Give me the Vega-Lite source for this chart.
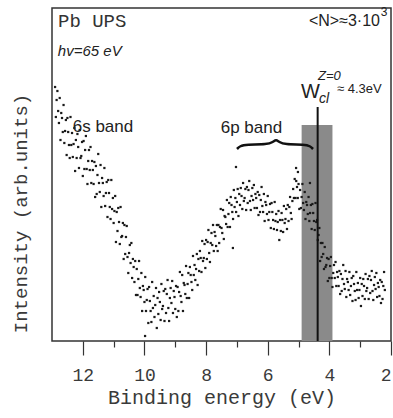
{
  "$schema": "https://vega.github.io/schema/vega-lite/v6.json",
  "width": 339,
  "height": 333,
  "autosize": {"type": "none"},
  "padding": {"left": 52, "top": 8, "right": 2, "bottom": 77},
  "background": "white",
  "config": {
    "view": {"stroke": "#333333", "strokeWidth": 1.5}
  },
  "encoding": {
    "x": {
      "field": "e", "type": "quantitative",
      "scale": {"domain": [2, 13], "reverse": true, "nice": false, "zero": false},
      "axis": {
        "title": "Binding energy (eV)",
        "values": [2, 2.5, 3, 3.5, 4, 4.5, 5, 5.5, 6, 6.5, 7, 7.5, 8, 8.5, 9, 9.5, 10, 10.5, 11, 11.5, 12, 12.5],
        "format": "d",
        "labelExpr": "datum.value % 2 === 0 ? format(datum.value, 'd') : ''",
        "labelOverlap": false,
        "tickSize": {"condition": {"test": "datum.value % 2 === 0", "value": 14}, "value": 6},
        "tickColor": "#333333",
        "tickWidth": 1.2,
        "domain": false,
        "grid": false,
        "labelFont": "Liberation Mono",
        "labelFontSize": 18,
        "labelColor": "#3a3a3a",
        "labelPadding": 11,
        "titleFont": "Liberation Mono",
        "titleFontSize": 20,
        "titleFontWeight": "normal",
        "titleColor": "#3a3a3a",
        "titlePadding": 3
      }
    },
    "y": {
      "field": "i", "type": "quantitative",
      "scale": {"domain": [0, 333], "nice": false, "zero": true},
      "axis": {
        "title": "Intensity (arb.units)",
        "labels": false, "ticks": false, "domain": false, "grid": false,
        "titleFont": "Liberation Mono",
        "titleFontSize": 19,
        "titleFontWeight": "normal",
        "titleColor": "#3a3a3a",
        "titleAngle": -90,
        "titleAlign": "center",
        "titleBaseline": "middle",
        "titleX": -32,
        "titleY": 205
      }
    }
  },
  "layer": [
    {
      "data": {"values": [{"e": 4.9, "e2": 3.9, "i": 216}]},
      "mark": {"type": "rect", "color": "#8a8a8a"},
      "encoding": {"x2": {"field": "e2"}, "y2": {"datum": 0}}
    },
    {
      "data": {"values": [
        {"e":12.900,"i":254},{"e":12.875,"i":224},{"e":12.850,"i":241},{"e":12.825,"i":250},{"e":12.800,"i":230},{"e":12.775,"i":218},{"e":12.750,"i":243},{"e":12.725,"i":201},{"e":12.700,"i":228},{"e":12.675,"i":223},
        {"e":12.650,"i":209},{"e":12.625,"i":236},{"e":12.600,"i":198},{"e":12.575,"i":210},{"e":12.550,"i":221},{"e":12.525,"i":186},{"e":12.500,"i":223},{"e":12.475,"i":209},{"e":12.450,"i":196},{"e":12.425,"i":183},
        {"e":12.400,"i":224},{"e":12.375,"i":196},{"e":12.350,"i":208},{"e":12.325,"i":184},{"e":12.300,"i":197},{"e":12.275,"i":213},{"e":12.250,"i":170},{"e":12.225,"i":201},{"e":12.200,"i":183},{"e":12.175,"i":207},
        {"e":12.150,"i":194},{"e":12.125,"i":173},{"e":12.100,"i":211},{"e":12.075,"i":183},{"e":12.050,"i":185},{"e":12.025,"i":199},{"e":12.000,"i":165},{"e":11.975,"i":200},{"e":11.950,"i":172},{"e":11.925,"i":191},
        {"e":11.900,"i":205},{"e":11.875,"i":172},{"e":11.850,"i":157},{"e":11.825,"i":180},{"e":11.800,"i":191},{"e":11.775,"i":171},{"e":11.750,"i":194},{"e":11.725,"i":158},{"e":11.700,"i":180},{"e":11.675,"i":171},
        {"e":11.650,"i":157},{"e":11.625,"i":179},{"e":11.600,"i":144},{"e":11.575,"i":175},{"e":11.550,"i":147},{"e":11.525,"i":166},{"e":11.500,"i":187},{"e":11.475,"i":158},{"e":11.450,"i":149},{"e":11.425,"i":176},
        {"e":11.400,"i":134},{"e":11.375,"i":163},{"e":11.350,"i":158},{"e":11.325,"i":145},{"e":11.300,"i":173},{"e":11.275,"i":135},{"e":11.250,"i":148},{"e":11.225,"i":159},{"e":11.200,"i":124},{"e":11.175,"i":161},
        {"e":11.150,"i":148},{"e":11.125,"i":134},{"e":11.100,"i":122},{"e":11.075,"i":161},{"e":11.050,"i":132},{"e":11.025,"i":143},{"e":11.000,"i":118},{"e":10.975,"i":130},{"e":10.950,"i":145},{"e":10.925,"i":99},
        {"e":10.900,"i":129},{"e":10.875,"i":110},{"e":10.850,"i":133},{"e":10.825,"i":119},{"e":10.800,"i":97},{"e":10.775,"i":134},{"e":10.750,"i":104},{"e":10.725,"i":105},{"e":10.700,"i":118},{"e":10.675,"i":82},
        {"e":10.650,"i":116},{"e":10.625,"i":87},{"e":10.600,"i":104},
        {"e":10.575,"i":115},{"e":10.550,"i":84},{"e":10.525,"i":68},{"e":10.500,"i":88},{"e":10.475,"i":96},{"e":10.450,"i":78},{"e":10.425,"i":98},{"e":10.400,"i":63},{"e":10.375,"i":82},{"e":10.350,"i":74},
        {"e":10.325,"i":59},{"e":10.300,"i":80},{"e":10.275,"i":46},{"e":10.250,"i":72},{"e":10.225,"i":46},{"e":10.200,"i":62},{"e":10.175,"i":80},{"e":10.150,"i":53},{"e":10.125,"i":44},{"e":10.100,"i":68},
        {"e":10.075,"i":30},{"e":10.050,"i":55},{"e":10.025,"i":51},{"e":10.000,"i":39},{"e":9.980,"i":5},{"e":9.975,"i":64},{"e":9.950,"i":30},{"e":9.925,"i":41},{"e":9.900,"i":52},{"e":9.875,"i":18},{"e":9.850,"i":54},
        {"e":9.825,"i":40},{"e":9.800,"i":30},{"e":9.775,"i":19},{"e":9.750,"i":59},{"e":9.725,"i":33},{"e":9.700,"i":45},{"e":9.675,"i":24},{"e":9.650,"i":36},{"e":9.625,"i":53},{"e":9.600,"i":13},
        {"e":9.575,"i":43},{"e":9.550,"i":27},{"e":9.525,"i":49},{"e":9.500,"i":39},{"e":9.475,"i":21},{"e":9.450,"i":57},{"e":9.425,"i":32},{"e":9.400,"i":35},{"e":9.375,"i":50},{"e":9.350,"i":20},
        {"e":9.325,"i":52},{"e":9.300,"i":28},{"e":9.275,"i":47},{"e":9.250,"i":61},{"e":9.225,"i":33},{"e":9.200,"i":20},{"e":9.175,"i":43},{"e":9.150,"i":53},{"e":9.125,"i":38},{"e":9.100,"i":60},
        {"e":9.075,"i":28},{"e":9.050,"i":50},{"e":9.025,"i":44},{"e":9.000,"i":32},{"e":8.975,"i":55},{"e":8.950,"i":24},{"e":8.925,"i":54},{"e":8.900,"i":30},{"e":8.875,"i":49},{"e":8.850,"i":69},
        {"e":8.825,"i":45},{"e":8.800,"i":39},{"e":8.775,"i":66},{"e":8.750,"i":30},{"e":8.725,"i":58},{"e":8.700,"i":56},{"e":8.675,"i":47},{"e":8.650,"i":75},{"e":8.625,"i":43},{"e":8.600,"i":57},
        {"e":8.575,"i":68},{"e":8.550,"i":43},{"e":8.525,"i":74},{"e":8.500,"i":66},{"e":8.475,"i":59},{"e":8.450,"i":51},{"e":8.425,"i":85},{"e":8.400,"i":66},{"e":8.375,"i":76},{"e":8.350,"i":61},
        {"e":8.325,"i":72},{"e":8.300,"i":87},{"e":8.275,"i":56},{"e":8.250,"i":82},{"e":8.225,"i":70},{"e":8.200,"i":90},{"e":8.175,"i":83},{"e":8.150,"i":69},{"e":8.125,"i":100},{"e":8.100,"i":80},
        {"e":8.075,"i":83},{"e":8.050,"i":97},{"e":8.025,"i":73},{"e":8.000,"i":101},{"e":7.975,"i":82},{"e":7.950,"i":99},{"e":7.925,"i":111},{"e":7.900,"i":88},{"e":7.875,"i":79},{"e":7.850,"i":98},
        {"e":7.825,"i":108},{"e":7.800,"i":96},{"e":7.775,"i":116},{"e":7.750,"i":90},{"e":7.725,"i":109},{"e":7.700,"i":105},{"e":7.675,"i":95},{"e":7.650,"i":116},{"e":7.625,"i":90},{"e":7.600,"i":116},
        {"e":7.575,"i":98},{"e":7.550,"i":114},{"e":7.525,"i":132},{"e":7.500,"i":113},{"e":7.475,"i":108},{"e":7.450,"i":131},{"e":7.425,"i":102},{"e":7.400,"i":125},{"e":7.375,"i":124},{"e":7.350,"i":117},
        {"e":7.325,"i":141},{"e":7.300,"i":114},{"e":7.275,"i":127},{"e":7.250,"i":138},{"e":7.225,"i":114},{"e":7.200,"i":144},
        {"e":7.175,"i":136},{"e":7.150,"i":129},{"e":7.130,"i":93},{"e":7.125,"i":122},{"e":7.100,"i":151},{"e":7.075,"i":134},{"e":7.050,"i":143},{"e":7.030,"i":174},{"e":7.025,"i":129},{"e":7.000,"i":139},{"e":6.975,"i":152},
        {"e":6.950,"i":125},{"e":6.925,"i":147},{"e":6.900,"i":136},{"e":6.875,"i":153},{"e":6.850,"i":145},{"e":6.825,"i":132},{"e":6.800,"i":158},{"e":6.775,"i":140},{"e":6.750,"i":143},{"e":6.725,"i":152},
        {"e":6.700,"i":131},{"e":6.675,"i":154},{"e":6.650,"i":138},{"e":6.625,"i":151},{"e":6.600,"i":160},{"e":6.575,"i":140},{"e":6.550,"i":131},{"e":6.525,"i":145},{"e":6.500,"i":153},{"e":6.475,"i":141},
        {"e":6.450,"i":156},{"e":6.425,"i":133},{"e":6.400,"i":147},{"e":6.375,"i":143},{"e":6.350,"i":133},{"e":6.325,"i":149},{"e":6.300,"i":126},{"e":6.275,"i":146},{"e":6.250,"i":129},{"e":6.225,"i":141},
        {"e":6.200,"i":154},{"e":6.175,"i":135},{"e":6.150,"i":129},{"e":6.125,"i":147},{"e":6.100,"i":120},{"e":6.075,"i":139},{"e":6.050,"i":136},{"e":6.025,"i":127},{"e":6.000,"i":145},{"e":5.975,"i":121},
        {"e":5.950,"i":129},{"e":5.925,"i":137},{"e":5.900,"i":113},{"e":5.875,"i":138},{"e":5.850,"i":129},{"e":5.825,"i":121},{"e":5.800,"i":112},{"e":5.775,"i":139},{"e":5.750,"i":120},{"e":5.725,"i":127},
        {"e":5.700,"i":111},{"e":5.675,"i":119},{"e":5.650,"i":130},{"e":5.625,"i":101},{"e":5.600,"i":121},{"e":5.575,"i":110},{"e":5.550,"i":128},{"e":5.525,"i":121},{"e":5.500,"i":109},{"e":5.475,"i":135},
        {"e":5.450,"i":118},{"e":5.425,"i":122},{"e":5.400,"i":132},{"e":5.375,"i":112},{"e":5.350,"i":136},{"e":5.325,"i":120},{"e":5.300,"i":134},{"e":5.275,"i":144},{"e":5.250,"i":128},{"e":5.225,"i":122},
        {"e":5.200,"i":140},{"e":5.175,"i":152},{"e":5.150,"i":143},{"e":5.125,"i":162},{"e":5.100,"i":143},{"e":5.080,"i":173},{"e":5.075,"i":160},{"e":5.050,"i":154},{"e":5.025,"i":143},{"e":5.020,"i":169},{"e":5.000,"i":157},
        {"e":4.975,"i":132},{"e":4.950,"i":151},{"e":4.925,"i":133},{"e":4.900,"i":144},{"e":4.875,"i":157},{"e":4.850,"i":138},{"e":4.825,"i":131},{"e":4.800,"i":149},{"e":4.775,"i":122},{"e":4.750,"i":139},
        {"e":4.725,"i":136},{"e":4.700,"i":127},{"e":4.675,"i":144},{"e":4.650,"i":120},{"e":4.630,"i":158},{"e":4.625,"i":128},{"e":4.600,"i":136},{"e":4.575,"i":112},{"e":4.550,"i":137},{"e":4.525,"i":128},
        {"e":4.500,"i":120},{"e":4.475,"i":111},{"e":4.450,"i":138},{"e":4.425,"i":119},
        {"e":4.400,"i":121},{"e":4.375,"i":101},{"e":4.350,"i":106},{"e":4.325,"i":113},{"e":4.300,"i":80},{"e":4.275,"i":98},{"e":4.250,"i":84},{"e":4.225,"i":98},{"e":4.200,"i":87},{"e":4.175,"i":72},
        {"e":4.150,"i":94},{"e":4.125,"i":74},{"e":4.100,"i":76},{"e":4.075,"i":83},{"e":4.050,"i":60},{"e":4.025,"i":82},{"e":4.000,"i":63},{"e":3.975,"i":75},{"e":3.950,"i":84},{"e":3.925,"i":63},
        {"e":3.900,"i":54},{"e":3.875,"i":68},{"e":3.850,"i":76},{"e":3.825,"i":63},{"e":3.800,"i":79},{"e":3.775,"i":55},{"e":3.750,"i":69},{"e":3.725,"i":64},{"e":3.700,"i":55},{"e":3.675,"i":70},
        {"e":3.650,"i":47},{"e":3.625,"i":67},{"e":3.600,"i":50},{"e":3.575,"i":62},{"e":3.550,"i":76},{"e":3.525,"i":57},{"e":3.500,"i":52},{"e":3.475,"i":70},{"e":3.450,"i":44},{"e":3.425,"i":62},
        {"e":3.400,"i":59},{"e":3.375,"i":51},{"e":3.350,"i":69},{"e":3.325,"i":46},{"e":3.300,"i":55},{"e":3.275,"i":63},{"e":3.250,"i":40},{"e":3.225,"i":65},{"e":3.200,"i":57},{"e":3.175,"i":50},
        {"e":3.150,"i":41},{"e":3.125,"i":69},{"e":3.100,"i":51},{"e":3.075,"i":58},{"e":3.050,"i":43},{"e":3.025,"i":51},{"e":3.000,"i":63},{"e":2.975,"i":35},{"e":2.950,"i":57},{"e":2.925,"i":45},
        {"e":2.900,"i":62},{"e":2.875,"i":55},{"e":2.850,"i":42},{"e":2.825,"i":67},{"e":2.800,"i":50},{"e":2.775,"i":53},{"e":2.750,"i":62},{"e":2.725,"i":42},{"e":2.700,"i":65},{"e":2.675,"i":48},
        {"e":2.650,"i":61},{"e":2.625,"i":70},{"e":2.600,"i":50},{"e":2.575,"i":41},{"e":2.550,"i":56},{"e":2.525,"i":64},{"e":2.500,"i":52},{"e":2.475,"i":68},{"e":2.450,"i":44},{"e":2.425,"i":58},
        {"e":2.400,"i":54},{"e":2.375,"i":45},{"e":2.350,"i":61},{"e":2.325,"i":38},{"e":2.300,"i":59},{"e":2.275,"i":42},{"e":2.250,"i":55},{"e":2.225,"i":69},{"e":2.200,"i":51}
      ]},
      "mark": {"type": "square", "size": 5, "filled": true, "color": "#1a1a1a", "opacity": 1}
    },
    {
      "data": {"values": [{"e": 4.38, "i": 234}]},
      "mark": {"type": "rule", "color": "#111111", "strokeWidth": 2},
      "encoding": {"y2": {"datum": 0}}
    },
    {
      "data": {"values": [
        {"k": 1, "e": 6.997, "i": 192},
        {"k": 2, "e": 6.90, "i": 195},
        {"k": 3, "e": 6.705, "i": 196.5},
        {"k": 4, "e": 6.00, "i": 196.5},
        {"k": 5, "e": 5.83, "i": 199},
        {"k": 6, "e": 5.73, "i": 201.5},
        {"k": 7, "e": 5.63, "i": 199},
        {"k": 8, "e": 5.46, "i": 196.5},
        {"k": 9, "e": 4.79, "i": 196.5},
        {"k": 10, "e": 4.63, "i": 195},
        {"k": 11, "e": 4.53, "i": 192}
      ]},
      "mark": {"type": "line", "interpolate": "basis", "color": "#111111", "strokeWidth": 2.5},
      "encoding": {"order": {"field": "k", "type": "quantitative"}}
    },
    {
      "data": {"values": [{"e": 12.805, "i": 314, "t": "Pb UPS"}]},
      "mark": {"type": "text", "font": "Liberation Mono", "fontSize": 19, "align": "left", "baseline": "alphabetic", "color": "#333333"},
      "encoding": {"text": {"field": "t"}}
    },
    {
      "data": {"values": [{"e": 12.81, "i": 285, "t": "hv=65 eV"}]},
      "mark": {"type": "text", "font": "Liberation Sans", "fontStyle": "italic", "fontSize": 15, "align": "left", "baseline": "alphabetic", "color": "#222222"},
      "encoding": {"text": {"field": "t"}}
    },
    {
      "data": {"values": [{"e": 2.358, "i": 315, "t": "<N>≈3·10"}]},
      "mark": {"type": "text", "font": "Liberation Sans", "fontSize": 16, "align": "right", "baseline": "alphabetic", "color": "#222222"},
      "encoding": {"text": {"field": "t"}}
    },
    {
      "data": {"values": [{"e": 2.33, "i": 325, "t": "3"}]},
      "mark": {"type": "text", "font": "Liberation Sans", "fontSize": 12, "align": "left", "baseline": "alphabetic", "color": "#222222"},
      "encoding": {"text": {"field": "t"}}
    },
    {
      "data": {"values": [{"e": 4.921, "i": 243, "t": "W"}]},
      "mark": {"type": "text", "font": "Liberation Sans", "fontSize": 20, "align": "left", "baseline": "alphabetic", "color": "#222222"},
      "encoding": {"text": {"field": "t"}}
    },
    {
      "data": {"values": [{"e": 4.337, "i": 238, "t": "cl"}]},
      "mark": {"type": "text", "font": "Liberation Sans", "fontStyle": "italic", "fontSize": 14, "align": "left", "baseline": "alphabetic", "color": "#222222"},
      "encoding": {"text": {"field": "t"}}
    },
    {
      "data": {"values": [{"e": 4.369, "i": 261, "t": "Z=0"}]},
      "mark": {"type": "text", "font": "Liberation Sans", "fontStyle": "italic", "fontSize": 13, "align": "left", "baseline": "alphabetic", "color": "#222222"},
      "encoding": {"text": {"field": "t"}}
    },
    {
      "data": {"values": [{"e": 3.753, "i": 248, "t": "≈ 4.3eV"}]},
      "mark": {"type": "text", "font": "Liberation Sans", "fontSize": 13, "align": "left", "baseline": "alphabetic", "color": "#222222"},
      "encoding": {"text": {"field": "t"}}
    },
    {
      "data": {"values": [{"e": 12.328, "i": 209, "t": "6s band"}, {"e": 7.526, "i": 208, "t": "6p band"}]},
      "mark": {"type": "text", "font": "Liberation Sans", "fontSize": 17, "align": "left", "baseline": "alphabetic", "color": "#222222"},
      "encoding": {"text": {"field": "t"}}
    }
  ]
}
